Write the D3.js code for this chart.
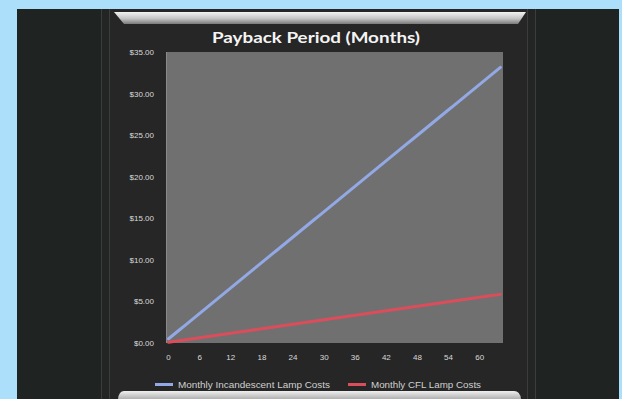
<!DOCTYPE html>
<html><head><meta charset="utf-8">
<script src="https://cdn.jsdelivr.net/npm/d3@7"></script>
<style>
html,body{margin:0;padding:0;background:#ace0fa;}
svg{display:block;}
</style></head>
<body>
<svg id="c" width="622" height="399"></svg>
<script>
const title = "Payback Period (Months)";
const months = [0,1,2,3,4,5,6,7,8,9,10,11,12,13,14,15,16,17,18,19,20,21,22,23,24,25,26,27,28,29,30,31,32,33,34,35,36,37,38,39,40,41,42,43,44,45,46,47,48,49,50,51,52,53,54,55,56,57,58,59,60,61,62,63,64];
const incandescent = [0.51,1.02,1.53,2.04,2.55,3.06,3.57,4.08,4.59,5.10,5.61,6.12,6.63,7.14,7.65,8.16,8.67,9.18,9.69,10.20,10.71,11.22,11.73,12.24,12.75,13.26,13.77,14.28,14.79,15.30,15.81,16.32,16.83,17.34,17.85,18.36,18.87,19.38,19.89,20.40,20.91,21.42,21.93,22.44,22.95,23.46,23.97,24.48,24.99,25.50,26.01,26.52,27.03,27.54,28.05,28.56,29.07,29.58,30.09,30.60,31.11,31.62,32.13,32.64,33.15];
const cfl = [0.09,0.18,0.27,0.36,0.45,0.54,0.63,0.72,0.81,0.90,0.99,1.08,1.17,1.26,1.35,1.44,1.53,1.62,1.71,1.80,1.89,1.98,2.07,2.16,2.25,2.34,2.43,2.52,2.61,2.70,2.79,2.88,2.97,3.06,3.15,3.24,3.33,3.42,3.51,3.60,3.69,3.78,3.87,3.96,4.05,4.14,4.23,4.32,4.41,4.50,4.59,4.68,4.77,4.86,4.95,5.04,5.13,5.22,5.31,5.40,5.49,5.58,5.67,5.76,5.85];
const yTicks = [0,5,10,15,20,25,30,35];
const xTickLabels = [0,6,12,18,24,30,36,42,48,54,60];
const seriesNames = ["Monthly Incandescent Lamp Costs","Monthly CFL Lamp Costs"];
const seriesColors = ["#93a9e6","#dc4d5c"];

const svg = d3.select("#c");
const defs = svg.append("defs");
const g1 = defs.append("linearGradient").attr("id","silver").attr("x1",0).attr("y1",0).attr("x2",0).attr("y2",1);
g1.append("stop").attr("offset","0%").attr("stop-color","#f2f2f2");
g1.append("stop").attr("offset","55%").attr("stop-color","#c4c4c4");
g1.append("stop").attr("offset","100%").attr("stop-color","#7a7a7a");
const g2 = defs.append("linearGradient").attr("id","silver2").attr("x1",0).attr("y1",0).attr("x2",0).attr("y2",1);
g2.append("stop").attr("offset","0%").attr("stop-color","#f0f0f0");
g2.append("stop").attr("offset","100%").attr("stop-color","#b0b0b0");

// frame
svg.append("rect").attr("x",17).attr("y",9).attr("width",602).attr("height",390).attr("fill","#1f2322");
svg.append("rect").attr("x",101).attr("y",9).attr("width",434).attr("height",390).attr("fill","#232424");
svg.append("rect").attr("x",109).attr("y",9).attr("width",418).attr("height",390).attr("fill","#262626");
[101,109,527,535].forEach(xx=>svg.append("line").attr("x1",xx+0.5).attr("x2",xx+0.5).attr("y1",9).attr("y2",399).attr("stroke","#3c3c3c").attr("stroke-width",1));

// top silver bar
svg.append("path").attr("d","M114,12 L526,12 L518,24 L124,24 Z").attr("fill","url(#silver)");
// bottom silver bar
svg.append("path").attr("d","M124,391 L514,391 Q520,391 521,399 L118,399 Q119,391 124,391 Z").attr("fill","url(#silver2)");

// title
svg.append("text").attr("x",316).attr("y",43).attr("text-anchor","middle")
  .attr("font-family","Lato, 'Open Sans', sans-serif").attr("font-weight","bold").attr("font-size",16)
  .attr("fill","#f4f4f4").attr("textLength",208).attr("lengthAdjust","spacingAndGlyphs").text(title);

// plot
const pLeft=166, pRight=503, pTop=52, pBottom=343;
svg.append("rect").attr("x",pLeft).attr("y",pTop).attr("width",pRight-pLeft).attr("height",pBottom-pTop).attr("fill","#707070");
svg.append("line").attr("x1",pLeft+0.5).attr("x2",pLeft+0.5).attr("y1",pTop).attr("y2",pBottom).attr("stroke","#8a8a8a");

const x = d3.scaleBand().domain(months).range([pLeft,pRight]);
const y = d3.scaleLinear().domain([0,35]).range([pBottom,pTop]);

const yAxis = svg.append("g").attr("transform",`translate(${pLeft-12},0)`)
  .call(d3.axisLeft(y).tickValues(yTicks).tickSize(0).tickPadding(0).tickFormat(d=>"$"+d.toFixed(2)));
yAxis.select(".domain").remove();
yAxis.selectAll("text").attr("font-family","'Liberation Sans', Arial, sans-serif").attr("font-size",8).attr("fill","#dadada");

const xAxis = svg.append("g").attr("transform",`translate(0,${pBottom+11})`)
  .call(d3.axisBottom(x).tickValues(xTickLabels).tickSize(0).tickPadding(0));
xAxis.select(".domain").remove();
xAxis.selectAll("text").attr("font-family","'Liberation Sans', Arial, sans-serif").attr("font-size",8).attr("fill","#dadada");

const line = d3.line().x((d,i)=>x(months[i])+x.bandwidth()/2).y(d=>y(d));
[incandescent,cfl].forEach((s,k)=>{
  svg.append("path").datum(s).attr("d",line).attr("fill","none")
    .attr("stroke",seriesColors[k]).attr("stroke-width",3).attr("stroke-linecap","round");
});

// legend
const legendX = [155,348];
const legendW = [152,110];
seriesNames.forEach((n,k)=>{
  svg.append("line").attr("x1",legendX[k]).attr("x2",legendX[k]+18).attr("y1",384.5).attr("y2",384.5)
    .attr("stroke",seriesColors[k]).attr("stroke-width",3);
  svg.append("text").attr("x",legendX[k]+23).attr("y",388).attr("font-family","'Liberation Sans', Arial, sans-serif")
    .attr("font-size",9).attr("fill","#d0d0d0").attr("textLength",legendW[k]).attr("lengthAdjust","spacingAndGlyphs").text(n);
});
</script>
</body></html>
